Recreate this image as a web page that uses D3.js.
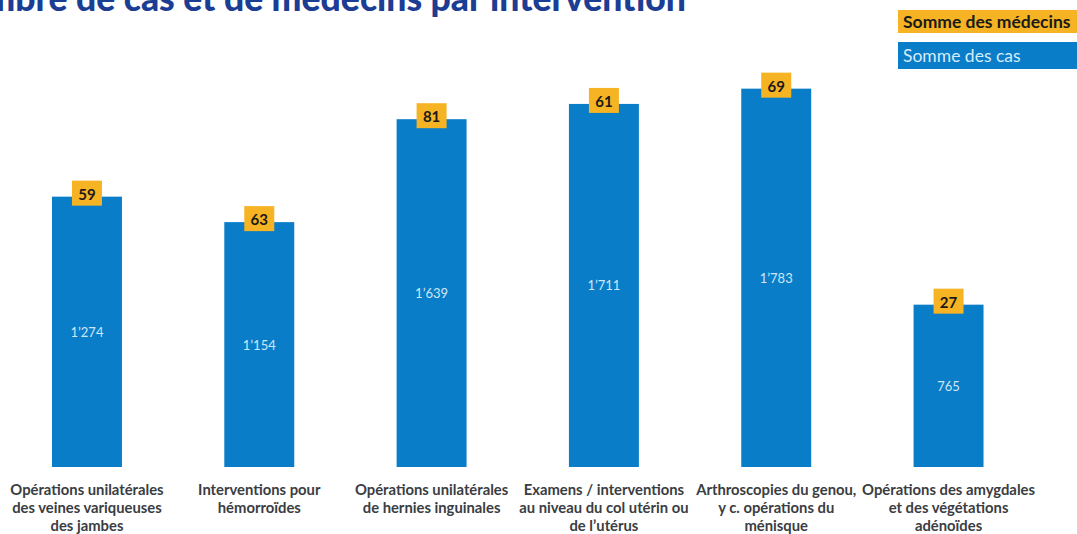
<!DOCTYPE html>
<html><head><meta charset="utf-8">
<script src="https://cdn.jsdelivr.net/npm/d3@7"></script>
<style>
html,body{margin:0;padding:0;background:#fff;}
svg{display:block;}
</style></head>
<body>
<svg id="chart" width="1077" height="534"></svg>
<script>
const categories = [
  "Opérations unilatérales\ndes veines variqueuses\ndes jambes",
  "Interventions pour\nhémorroïdes",
  "Opérations unilatérales\nde hernies inguinales",
  "Examens / interventions\nau niveau du col utérin ou\nde l’utérus",
  "Arthroscopies du genou,\ny c. opérations du\nménisque",
  "Opérations des amygdales\net des végétations\nadénoïdes"
];
const casValues = [1274, 1154, 1639, 1711, 1783, 765];
const medecinsValues = [59, 63, 81, 61, 69, 27];
const casLabels = ["1’274", "1’154", "1’639", "1’711", "1’783", "765"];
const seriesNames = ["Somme des médecins", "Somme des cas"];
const title = "Nombre de cas et de médecins par intervention";

const blue = "#0a7dc9", orange = "#f6b323", navy = "#1b3d94", textCol = "#3a3d42";
const svg = d3.select("#chart");

const x = d3.scaleBand().domain(categories).range([0.8, 1034.7]).paddingInner(0.594).paddingOuter(0.297);
const y = d3.scaleLinear().domain([0, 2000]).range([467, 42.6]);

// title
svg.append("text").attr("x", 686).attr("y", 11).attr("text-anchor", "end")
  .attr("font-family", "Lato, sans-serif").attr("font-weight", 900).attr("font-size", 35.5)
  .attr("fill", navy).text(title);

// legend
const leg = svg.append("g");
leg.append("rect").attr("x", 898).attr("y", 10).attr("width", 190).attr("height", 23).attr("fill", orange);
leg.append("text").attr("x", 903).attr("y", 27.5).attr("font-family", "Lato, sans-serif").attr("font-weight", 700)
  .attr("font-size", 17.5).attr("fill", "#1a1a1a").text(seriesNames[0]);
leg.append("rect").attr("x", 898).attr("y", 42).attr("width", 190).attr("height", 27).attr("fill", blue);
leg.append("text").attr("x", 903).attr("y", 61.5).attr("font-family", "Lato, sans-serif").attr("font-weight", 400)
  .attr("font-size", 17.5).attr("fill", "#d6ecfa").text(seriesNames[1]);

// bars
const g = svg.append("g");
g.selectAll("rect.bar").data(categories).join("rect").attr("class", "bar")
  .attr("x", d => x(d)).attr("width", x.bandwidth())
  .attr("y", (d, i) => y(casValues[i])).attr("height", (d, i) => y(0) - y(casValues[i]))
  .attr("fill", blue);

// inner labels
g.selectAll("text.val").data(categories).join("text").attr("class", "val")
  .attr("x", d => x(d) + x.bandwidth() / 2)
  .attr("y", (d, i) => (y(casValues[i]) + y(0)) / 2 + 5)
  .attr("text-anchor", "middle").attr("font-family", "Lato, sans-serif").attr("font-size", 13)
  .attr("fill", "#cfe6f6").text((d, i) => casLabels[i]);

// orange boxes
const bw = 30, bh = 25;
g.selectAll("rect.med").data(categories).join("rect").attr("class", "med")
  .attr("x", d => x(d) + x.bandwidth() / 2 - bw / 2)
  .attr("y", (d, i) => y(casValues[i]) - 16).attr("width", bw).attr("height", bh).attr("fill", orange);
g.selectAll("text.med").data(categories).join("text").attr("class", "med")
  .attr("x", d => x(d) + x.bandwidth() / 2)
  .attr("y", (d, i) => y(casValues[i]) + 3)
  .attr("text-anchor", "middle").attr("font-family", "Lato, sans-serif").attr("font-weight", 700)
  .attr("font-size", 15).attr("fill", "#1a1a1a").text((d, i) => medecinsValues[i]);

// axis
const ax = svg.append("g").attr("transform", `translate(0,${y(0)})`)
  .call(d3.axisBottom(x).tickSize(0).tickPadding(0));
ax.select(".domain").remove();
ax.selectAll(".tick text").each(function(d) {
  const t = d3.select(this);
  t.text(null).attr("y", 0).attr("dy", null)
    .attr("font-family", "Lato, sans-serif").attr("font-weight", 700).attr("font-size", 14.8)
    .attr("fill", textCol);
  d.split("\n").forEach((line, i) => {
    t.append("tspan").attr("x", 0).attr("y", 28 + i * 18).text(line);
  });
});
</script>
</body></html>
